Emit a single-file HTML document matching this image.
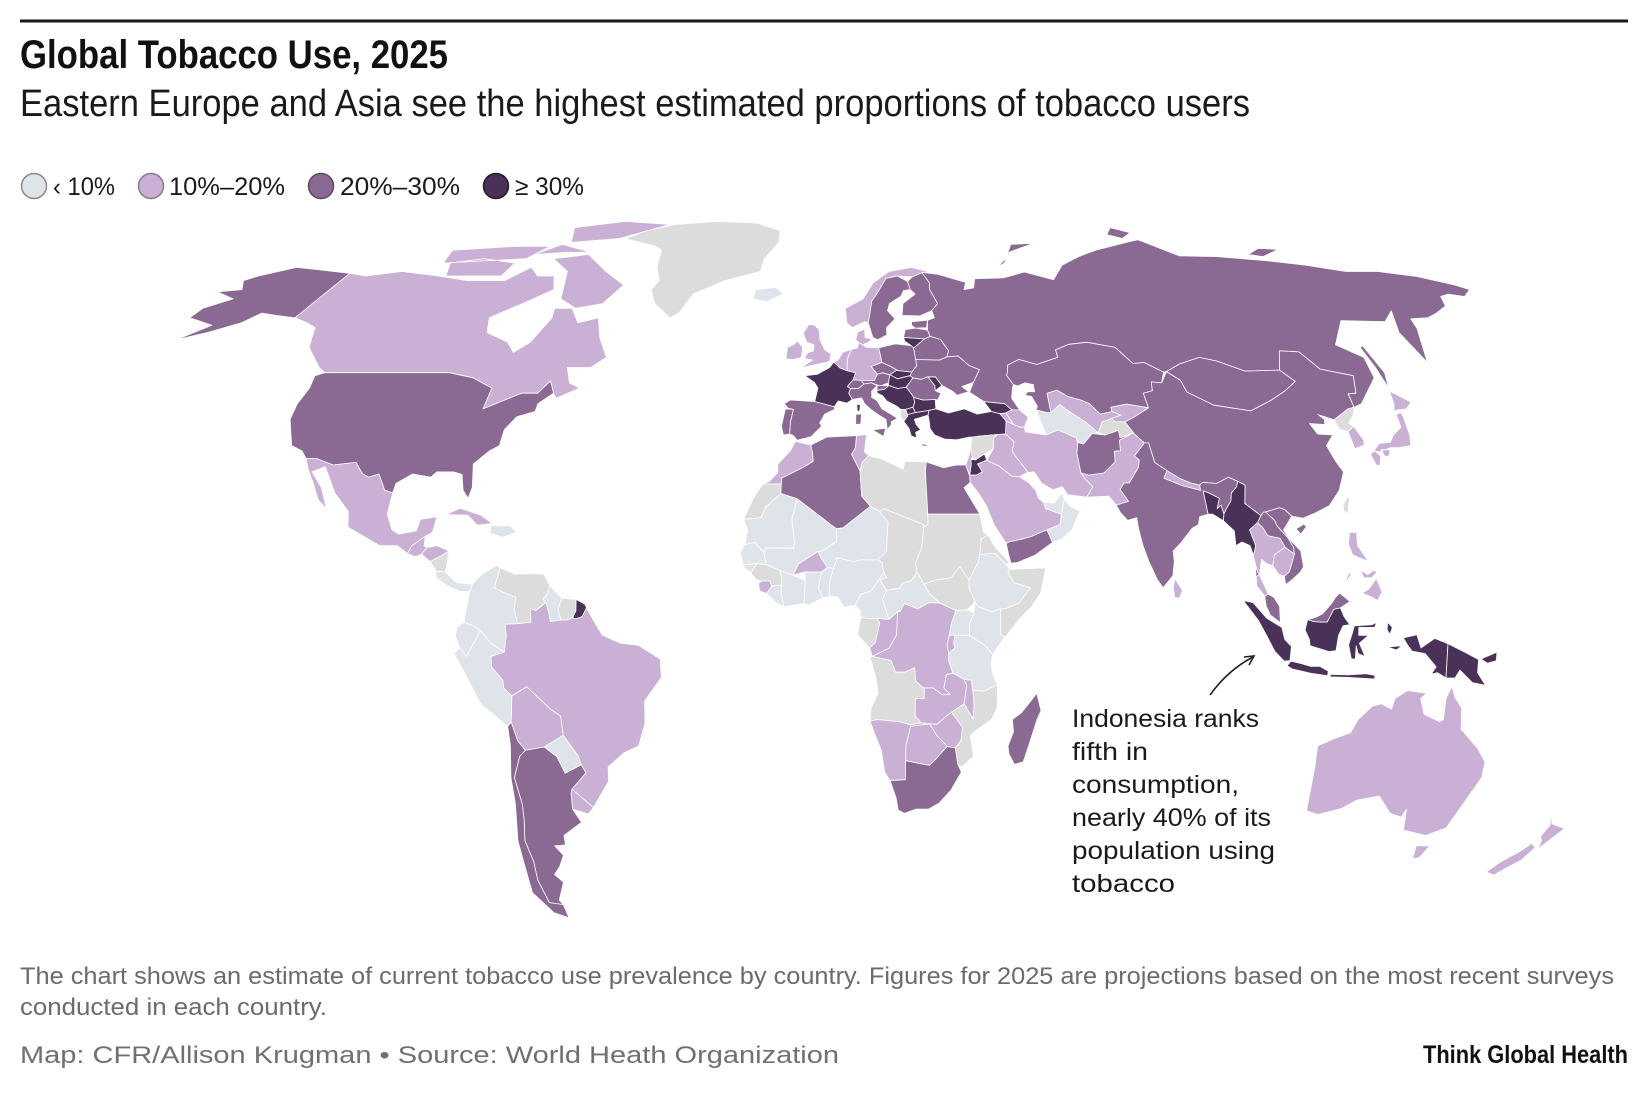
<!DOCTYPE html>
<html>
<head>
<meta charset="utf-8">
<style>
  html,body{margin:0;padding:0;background:#fff;}
  svg{display:block;}
  text{font-family:"Liberation Sans",sans-serif;}
</style>
</head>
<body>
<svg id="chart" width="1640" height="1102" viewBox="0 0 1640 1102" xmlns="http://www.w3.org/2000/svg">
  <line x1="20" y1="21" x2="1628" y2="21" stroke="#1a1a1a" stroke-width="3"/>
  <text x="20" y="68" font-size="40" font-weight="bold" fill="#111" textLength="428" lengthAdjust="spacingAndGlyphs">Global Tobacco Use, 2025</text>
  <text x="20" y="116" font-size="38" fill="#1a1a1a" textLength="1230" lengthAdjust="spacingAndGlyphs">Eastern Europe and Asia see the highest estimated proportions of tobacco users</text>

  <g>
    <g>
      <circle cx="34" cy="186" r="12.5" fill="#dfe4ea" stroke="#8a8a8a" stroke-width="1.5"/>
      <text x="53" y="195" font-size="25" fill="#1a1a1a" textLength="62" lengthAdjust="spacingAndGlyphs">‹ 10%</text>
    </g>
    <g>
      <circle cx="151" cy="186" r="12.5" fill="#c9b0d4" stroke="#8a7a90" stroke-width="1.5"/>
      <text x="169" y="195" font-size="25" fill="#1a1a1a" textLength="116" lengthAdjust="spacingAndGlyphs">10%–20%</text>
    </g>
    <g>
      <circle cx="321" cy="186" r="12.5" fill="#8a6a93" stroke="#5a4a60" stroke-width="1.5"/>
      <text x="340" y="195" font-size="25" fill="#1a1a1a" textLength="120" lengthAdjust="spacingAndGlyphs">20%–30%</text>
    </g>
    <g>
      <circle cx="496" cy="186" r="12.5" fill="#4a3157" stroke="#2a1a30" stroke-width="1.5"/>
      <text x="515" y="195" font-size="25" fill="#1a1a1a" textLength="69" lengthAdjust="spacingAndGlyphs">≥ 30%</text>
    </g>
  </g>

  <g id="map"></g>

  <g>
    <path d="M1210,695 Q1228,670 1253,657" fill="none" stroke="#222" stroke-width="1.6"/>
    <path d="M1244,657 L1254,656 L1249,665" fill="none" stroke="#222" stroke-width="1.6"/>
    <text x="1072" y="727" font-size="25" fill="#1a1a1a" textLength="187" lengthAdjust="spacingAndGlyphs">Indonesia ranks</text>
    <text x="1072" y="760" font-size="25" fill="#1a1a1a" textLength="76" lengthAdjust="spacingAndGlyphs">fifth in</text>
    <text x="1072" y="793" font-size="25" fill="#1a1a1a" textLength="167" lengthAdjust="spacingAndGlyphs">consumption,</text>
    <text x="1072" y="826" font-size="25" fill="#1a1a1a" textLength="199" lengthAdjust="spacingAndGlyphs">nearly 40% of its</text>
    <text x="1072" y="859" font-size="25" fill="#1a1a1a" textLength="203" lengthAdjust="spacingAndGlyphs">population using</text>
    <text x="1072" y="892" font-size="25" fill="#1a1a1a" textLength="103" lengthAdjust="spacingAndGlyphs">tobacco</text>
  </g>

  <text x="20" y="984" font-size="24" fill="#6b6b6b" textLength="1594" lengthAdjust="spacingAndGlyphs">The chart shows an estimate of current tobacco use prevalence by country. Figures for 2025 are projections based on the most recent surveys</text>
  <text x="20" y="1015" font-size="24" fill="#6b6b6b" textLength="307" lengthAdjust="spacingAndGlyphs">conducted in each country.</text>
  <text x="20" y="1063" font-size="24" fill="#707070" textLength="819" lengthAdjust="spacingAndGlyphs">Map: CFR/Allison Krugman • Source: World Heath Organization</text>
  <text x="1423" y="1063" font-size="25" font-weight="bold" fill="#111" textLength="205" lengthAdjust="spacingAndGlyphs">Think Global Health</text>
</svg>

<script>
// ---- Data: category per country (0: <10%, 1: 10-20%, 2: 20-30%, 3: >=30%, -1: no data)
const countryNames = ["Canada","USA","Alaska","Greenland","Iceland","Mexico","Guatemala","Honduras","Nicaragua","Costa Rica-Panama","Cuba","Hispaniola",
"Colombia","Venezuela","Guyana","Suriname","French Guiana","Ecuador","Peru","Brazil","Bolivia","Paraguay","Uruguay","Argentina","Chile",
"Norway","Sweden","Finland","UK","Ireland","France","Spain","Portugal","Germany","Benelux","Denmark","Switzerland","Austria","Italy","Poland","Czechia","Slovakia","Hungary","Slovenia","Western Balkans","Albania","North Macedonia","Greece","Bulgaria","Romania","Moldova","Ukraine","Belarus","Lithuania","Latvia","Estonia","Russia","Turkey","Georgia","Armenia","Azerbaijan",
"Iran","Iraq","Syria","Jordan","Israel-Lebanon","Saudi Arabia","Yemen","Oman","UAE","Afghanistan","Pakistan","Turkmenistan","Uzbekistan","Kazakhstan","Kyrgyzstan","Tajikistan","Mongolia","China","Taiwan","North Korea","South Korea","Japan","India","Nepal","Bangladesh","Myanmar","Thailand","Laos","Vietnam","Cambodia","Malaysia","Indonesia","Papua New Guinea","Philippines","Sri Lanka","Australia","New Zealand",
"Morocco","Western Sahara","Algeria","Tunisia","Libya","Egypt","Mauritania","Mali","Niger","Chad","Sudan","South Sudan","Ethiopia","Eritrea","Somalia","Kenya","Senegal","Guinea","Guinea-Bissau","Sierra Leone","Liberia","Cote d'Ivoire","Burkina Faso","Ghana","Togo-Benin","Nigeria","Cameroon","Central African Republic","Gabon","Congo","DR Congo","Uganda","Rwanda-Burundi","Tanzania","Angola","Zambia","Malawi","Mozambique","Zimbabwe","Namibia","Botswana","South Africa","Madagascar"];
const countryCategories = [1,2,2,-1,0,1,1,1,-1,0,1,0,
0,-1,0,-1,3,0,0,1,1,0,1,2,2,
1,2,2,1,1,3,2,2,1,1,1,2,2,2,2,2,3,3,2,3,-1,3,3,3,2,3,2,2,3,2,2,2,3,3,1,1,
1,1,-1,3,1,1,2,0,0,2,1,0,1,2,1,-1,2,2,-1,-1,1,1,2,1,3,3,1,2,2,1,2,3,3,1,1,1,1,
1,-1,2,1,-1,2,0,0,0,-1,-1,-1,0,-1,-1,0,0,-1,0,1,0,0,1,0,0,0,0,0,-1,1,1,0,1,0,-1,1,1,-1,1,1,1,2,2];
const categoryLabels = ["< 10%","10%–20%","20%–30%","≥ 30%"];
const categoryColors = ["#dfe4ea","#c9b0d4","#8a6a93","#4a3157"];
const noDataColor = "#dcdcdc";

// ---- Geometry (lon, lat)
const countryShapes = {
"Canada":[[[-141,69.6],[-136,69],[-128,70],[-117,69],[-108,68],[-98,68],[-94,71],[-90,69],[-85,69],[-82,66],[-86,64],[-94,60],[-92,57],[-85,55],[-82,53],[-79,55],[-77,60],[-78,62],[-73,62],[-69,59],[-64,60],[-61,56],[-57,52],[-60,50],[-66,50],[-64,47],[-61,46],[-66,44],[-67,45],[-69,47.4],[-71,45],[-75,45],[-79,43.5],[-83,42],[-83,46],[-89,48],[-95,49],[-123,49],[-125,50],[-131,54],[-134,58],[-137,59],[-141,60]],
 [[-62,67],[-65,63],[-72,62],[-78,64],[-82,70],[-90,73],[-80,74],[-70,70]],
 [[-118,72],[-110,73],[-100,72],[-100,69],[-115,69]],
 [[-90,77],[-75,78],[-62,82],[-80,83],[-95,81]],
 [[-122,75],[-105,76],[-95,76],[-98,73],[-120,72]],
 [[-97,74],[-88,74.5],[-80,74.5],[-92,76.5]]],
"USA":[[[-123,49],[-95,49],[-89,48],[-83,46],[-83,42],[-79,43.5],[-75,45],[-71,45],[-69,47.4],[-67,45],[-70,43],[-70,41.5],[-74,40.5],[-76,38],[-76,35],[-78,34],[-81,31.5],[-80,27],[-80.5,25],[-82,26.5],[-83,29.5],[-85,30],[-89,30],[-90,29],[-94,29.6],[-97,27.8],[-97.2,26],[-99,26.5],[-101,29.6],[-103,29],[-104.5,29.7],[-106.5,31.8],[-111,31.3],[-114.8,32.5],[-117,32.5],[-118.5,34],[-121,35],[-122.5,37.5],[-124,40],[-124.5,43],[-124,46],[-124.7,48.4]]],
"Alaska":[[[-141,60],[-141,69.6],[-150,70.4],[-157,71],[-163,69],[-165,68],[-162,66],[-167,65.5],[-161,64],[-165,62],[-165,60],[-158,58.5],[-162,55.5],[-157,57],[-152,59],[-150,61],[-146,60.5]]],
"Greenland":[[[-73,78],[-60,76],[-57,75],[-55,71],[-52,68],[-53,66],[-50,63],[-44,60],[-42,61],[-40,65],[-32,68],[-22,70],[-22,73],[-19,77],[-20,80],[-30,82.5],[-45,83],[-60,82],[-68,80]]],
"Iceland":[[[-22,64],[-22,66],[-16,66.5],[-13.5,65],[-18,63.4]]],
"Mexico":[[[-117,32.5],[-114.8,32.5],[-111,31.3],[-106.5,31.8],[-104.5,29.7],[-103,29],[-101,29.6],[-99,26.5],[-97.2,26],[-97.5,22],[-96,19],[-94.5,18.2],[-91,18.8],[-90.5,21],[-87,21.5],[-87.5,18.5],[-89,17.8],[-91.5,16],[-92.2,14.5],[-94.5,16],[-98,16],[-105,19.5],[-105.5,22.5],[-109,26],[-112.5,31],[-114.8,30],[-112,27],[-110,23],[-112,24.7],[-114,28],[-115.8,30.5]]],
"Guatemala":[[[-92.2,14.5],[-91.5,16],[-89,17.8],[-89,15.9],[-88.2,15.7],[-89.3,14.4],[-90.5,13.9]]],
"Honduras":[[[-89.3,14.4],[-88.2,15.7],[-86,16],[-83.2,15],[-85,14],[-87.3,13]]],
"Nicaragua":[[[-87.3,13],[-85,14],[-83.2,15],[-83.6,11],[-85.7,11.2]]],
"Costa Rica-Panama":[[[-85.7,11.2],[-83.6,11],[-81,9],[-77.4,8.7],[-77.9,7.3],[-80,7.3],[-82.5,8.2],[-85.7,9.9]]],
"Cuba":[[[-85,21.9],[-82,23.1],[-77,21.8],[-74.2,20.2],[-77.5,19.9],[-80,21.8]]],
"Hispaniola":[[[-74.4,19.8],[-70,19.8],[-68.4,18.5],[-71.5,17.6],[-74.4,18.4]]],
"Colombia":[[[-77.4,8.7],[-75.5,10.5],[-72,12.4],[-71.4,11.8],[-72.4,8],[-70,7],[-67.5,6.2],[-67.8,4],[-67,1.2],[-69.8,1.1],[-69.5,-1],[-70,-4.2],[-73,-2.5],[-75.2,-0.1],[-77,0.8],[-79,1.5],[-77.9,7.3]]],
"Venezuela":[[[-71.4,11.8],[-68,10.6],[-64,10.7],[-61.5,10.6],[-60,8.4],[-60.5,6.8],[-61.4,5.9],[-60.7,5.2],[-63,3.7],[-64.2,4.1],[-64,1.5],[-66.9,1.2],[-67,1.2],[-67.8,4],[-67.5,6.2],[-70,7],[-72.4,8]]],
"Guyana":[[[-60,8.4],[-57.2,6],[-58,4],[-57.3,1.9],[-59.7,1.6],[-59.9,2.7],[-60.7,5.2],[-61.4,5.9],[-60.5,6.8]]],
"Suriname":[[[-57.2,6],[-54,5.8],[-54,3.6],[-54.7,2.3],[-56,1.9],[-57.3,1.9],[-58,4]]],
"French Guiana":[[[-54,5.8],[-52,4.9],[-51.6,4.2],[-52.6,2.5],[-54,2.1],[-54.7,2.3],[-54,3.6]]],
"Ecuador":[[[-80.9,-1],[-80,-3.4],[-78.5,-5],[-75.2,-0.1],[-77,0.8],[-79,1.5],[-80.5,0.5]]],
"Peru":[[[-80,-3.4],[-81.3,-4.5],[-79.5,-7.5],[-76,-14],[-70.4,-18.3],[-69.5,-17.5],[-68.8,-12.5],[-70.5,-11],[-70.6,-9.5],[-73,-7],[-73,-5],[-70,-4.2],[-73,-2.5],[-75.2,-0.1],[-78.5,-5]]],
"Brazil":[[[-60.7,5.2],[-59.9,2.7],[-59.7,1.6],[-57.3,1.9],[-56,1.9],[-54.7,2.3],[-54,2.1],[-52.6,2.5],[-51.6,4.2],[-50,1.8],[-48,-1],[-44,-2.5],[-40,-2.9],[-35.2,-5.5],[-35,-9],[-39,-13.5],[-39.2,-17.7],[-41,-22],[-44.5,-23.3],[-48.5,-26],[-48.8,-28.7],[-53.4,-33.7],[-57.6,-30.2],[-53.8,-27.1],[-54.6,-25.6],[-55,-24],[-58,-20],[-58.2,-16.3],[-60.2,-15.1],[-65.3,-10.8],[-68.8,-12.5],[-70.5,-11],[-70.6,-9.5],[-73,-7],[-73,-5],[-70,-4.2],[-69.5,-1],[-69.8,1.1],[-67,1.2],[-66.9,1.2],[-64,1.5],[-64.2,4.1],[-63,3.7]]],
"Bolivia":[[[-68.8,-12.5],[-65.3,-10.8],[-60.2,-15.1],[-58.2,-16.3],[-58,-20],[-62.6,-22.2],[-67,-22.8],[-68.5,-21],[-69.5,-17.5]]],
"Paraguay":[[[-58,-20],[-55,-24],[-54.6,-25.6],[-58.6,-27.2],[-60,-24],[-62.6,-22.2]]],
"Uruguay":[[[-57.6,-30.2],[-53.4,-33.7],[-54.9,-34.9],[-58.4,-34],[-58,-31]]],
"Argentina":[[[-67,-22.8],[-62.6,-22.2],[-60,-24],[-58.6,-27.2],[-54.6,-25.6],[-53.8,-27.1],[-57.6,-30.2],[-58,-31],[-58.4,-34],[-57,-36.5],[-62,-39],[-62.3,-40.8],[-65,-41],[-63.6,-42.8],[-65.5,-45],[-67.5,-46.5],[-66,-48],[-69,-51.5],[-68.5,-52.4],[-71.9,-52],[-72.3,-47.5],[-71.5,-44],[-71.8,-40],[-70.5,-36],[-70,-33],[-70.5,-28],[-68.5,-24]]],
"Chile":[[[-70.4,-18.3],[-69.5,-17.5],[-68.5,-21],[-67,-22.8],[-68.5,-24],[-70.5,-28],[-70,-33],[-70.5,-36],[-71.8,-40],[-71.5,-44],[-72.3,-47.5],[-71.9,-52],[-68.5,-52.4],[-68.6,-55],[-72,-54],[-75,-50],[-74,-44],[-73.5,-40],[-71.6,-33],[-71.3,-28],[-70.3,-22]]],
"Norway":[[[5,62],[5.5,59],[7,58],[10.5,59.2],[11.5,59],[12,61],[12.5,63.5],[14,65],[17,68.5],[20,69],[25,68.8],[28.5,69.2],[30,70],[25,71],[18,70],[13,67.5],[10,64]]],
"Sweden":[[[11.5,59],[12.7,56],[14,55.5],[16.5,56.5],[16.5,58],[19,59.8],[17,61.5],[17.6,63],[21,64.5],[22,65.8],[24,66],[23.5,67.8],[20.5,69],[17,68.5],[14,65],[12.5,63.5],[12,61]]],
"Finland":[[[21,60.5],[26,60.4],[29.5,61.5],[31.5,63],[29.8,66],[30,67.5],[28.8,69],[28.5,69.8],[25,68.8],[23.5,67.8],[24,66],[25.3,65],[21.5,63]]],
"UK":[[[-5.5,50],[1.4,51.2],[1.7,52.7],[0,53.5],[-1.5,55.5],[-2,57.6],[-3.5,58.6],[-5,58.6],[-6.2,56.8],[-5,55],[-3,54.5],[-3,53.3],[-4.5,52.9],[-5.2,51.8],[-3,51.5],[-5.7,50.1]]],
"Ireland":[[[-6,52],[-6,54],[-7.5,55.3],[-8.5,54.5],[-10,54],[-10,51.7],[-8,51.6]]],
"France":[[[-4.7,48.4],[-1.5,48.7],[1.5,50],[2.5,51.1],[4.2,49.9],[6,49.4],[8.2,49],[7.6,47.6],[6.2,46.3],[7,45.9],[6.6,45],[7.5,43.8],[6.2,43.1],[4,43.5],[3.1,42.4],[-1.8,43.4],[-1.2,46],[-2.2,47.1]],[[8.6,42.9],[9.5,42.8],[9.3,41.4],[8.7,41.7]]],
"Spain":[[[-9.3,43],[-7.8,43.7],[-1.8,43.4],[3.1,42.4],[3.2,41.9],[0.8,41],[-0.3,39.3],[0.2,38.7],[-1.5,37.3],[-2.2,36.7],[-5.5,36],[-6.5,36.9],[-7.4,37.2],[-7.4,39.5],[-6.9,41.9],[-8.2,42.1]]],
"Portugal":[[[-8.9,42],[-6.9,41.9],[-7.4,39.5],[-7.4,37.2],[-8.9,37],[-9.5,38.7]]],
"Germany":[[[6,50.8],[6.1,51.9],[7,53.6],[8.6,53.9],[8.9,55],[10,54.5],[11,54],[14.2,53.9],[14.6,52.6],[15,51],[12.2,50.2],[13.8,48.7],[13,47.5],[10.2,47.3],[7.6,47.6],[8.2,49],[6,49.4]]],
"Benelux":[[[2.5,51.1],[3.6,51.5],[4.7,53],[7,53.6],[6.1,51.9],[6,50.8],[6,49.4],[4.2,49.9]]],
"Denmark":[[[8.1,55.5],[8.6,57.1],[10.5,57.7],[10.6,56],[12.6,55.6],[11,54.8],[10,54.5],[8.9,55]]],
"Switzerland":[[[6.2,46.3],[7.6,47.6],[9.6,47.5],[10.4,46.8],[9,45.9],[7,45.9]]],
"Austria":[[[9.6,47.5],[13,47.5],[13.8,48.7],[15,49],[17,48.6],[16.5,47],[14.5,46.4],[12.2,47],[10.4,46.8]]],
"Italy":[[[6.6,45],[7,45.9],[9,45.9],[10.4,46.8],[12.2,47],[13.7,46.5],[12.3,45.4],[12.3,44.2],[13.6,43.6],[14.8,42],[16.1,41.4],[18.5,40.2],[17,39.5],[17,39],[16,38],[15.7,40],[14,40.8],[12.2,41.8],[10.5,43],[9.8,44.1],[7.5,43.8]],[[12.4,38],[15.6,38.3],[15.1,36.7]],[[8.4,41],[9.8,41],[9.6,39.1],[8.4,39]]],
"Poland":[[[14.2,53.9],[18.6,54.7],[23.5,54.3],[23.8,52.7],[24,50.4],[22.6,49.1],[19,49.4],[17,50.3],[15,51],[14.6,52.6]]],
"Czechia":[[[12.2,50.2],[15,51],[17,50.3],[18.8,49.5],[17,48.6],[15,49],[13.8,48.7]]],
"Slovakia":[[[17,48.6],[18.8,49.5],[19,49.4],[22.6,49.1],[22.1,48.4],[18.8,47.8]]],
"Hungary":[[[16.5,47],[17,48.6],[18.8,47.8],[22.1,48.4],[22.8,48],[21,46.2],[18.8,45.9],[16.6,46.5]]],
"Slovenia":[[[13.7,46.5],[16.6,46.5],[15.6,45.8],[13.6,45.5]]],
"Western Balkans":[[[13.6,45.5],[15.6,45.8],[16.6,46.5],[18.8,45.9],[21,46.2],[22.5,44.5],[22.7,44.2],[22.9,43.2],[22.4,42.3],[20.6,41.9],[19.4,41.9],[18.5,42.5],[16,43.5],[15,44.5],[13.6,45.1]]],
"Albania":[[[19.4,41.9],[20.6,41.9],[21,40.6],[20,39.6],[19.3,40.4]]],
"North Macedonia":[[[20.6,41.9],[22.4,42.3],[23,41.3],[21,40.9]]],
"Greece":[[[21,40.6],[21,40.9],[23,41.3],[26.3,41.7],[26,40.8],[23.5,40.2],[22.6,40],[23,39],[24,38],[22.8,37.5],[23,36.5],[21.7,36.8],[21.2,38.3],[20,39.6]],[[23.5,35.3],[26.3,35.1],[24.5,34.9]]],
"Bulgaria":[[[22.9,43.2],[22.7,44.2],[25,43.7],[28,43.8],[28,42],[26.3,41.7],[23,41.3],[22.4,42.3]]],
"Romania":[[[21,46.2],[22.8,48],[24.9,47.7],[26.6,48.2],[28.2,46.5],[28.2,45.5],[29.6,45],[28.6,43.7],[28,43.8],[25,43.7],[22.7,44.2],[22.5,44.5]]],
"Moldova":[[[26.6,48.2],[28.2,46.5],[28.2,45.5],[30,46.5],[28.5,48.2]]],
"Ukraine":[[[22.1,48.4],[22.6,49.1],[24,50.4],[23.8,51.6],[30,51.5],[32,52.1],[35,52.3],[37.5,50.4],[40,49.6],[38,47.1],[35,46.3],[36.5,45.3],[33.5,44.6],[32.5,45.4],[30,46.5],[28.5,48.2],[26.6,48.2],[24.9,47.7],[22.8,48]]],
"Belarus":[[[23.8,51.6],[23.5,53.9],[26.6,55.7],[28.2,56.2],[30.9,55.6],[32.7,53.3],[32,52.1],[30,51.5]]],
"Lithuania":[[[21,56],[26.6,55.7],[23.5,53.9],[22.8,54.4],[21.3,55.2]]],
"Latvia":[[[21,56],[21.6,57.6],[24.4,57.9],[27.7,57.5],[28.2,56.2],[26.6,55.7]]],
"Estonia":[[[23.5,59.2],[28,59.5],[27.5,58],[24.4,57.9],[23.4,58.5]]],
"Russia":[[[28,69.8],[33,69.4],[41,67.6],[40,66],[43,66.4],[44,68.4],[53,68.6],[60,69.9],[68,68.2],[73,71.5],[80,73.5],[87,75],[100,77],[105,77.7],[113,73.7],[125,73.5],[140,72.5],[150,71.5],[160,70],[170,70],[180,68.9],[188,67],[190.3,66],[186,64.5],[182,65],[179,64.5],[177,62.5],[172,61],[168,60],[163,59.8],[162,57.8],[156.5,51],[156,57],[160,61.5],[155,59.2],[143,59.4],[136,54.5],[141,52],[140,48],[133,43],[130.7,42.3],[131,44.9],[133,45],[135,48.4],[127.5,49.7],[125,53.1],[120,53.3],[117,49.5],[108,49.3],[102,51.3],[98,52],[92,50.7],[87.8,49.2],[87,49.1],[83,51],[80,50.8],[77,54],[70,55],[65,54.6],[61,53.5],[61,52],[55,50.6],[50.7,51.6],[47.5,50.5],[47,49],[46.7,48.5],[48,46.7],[47.5,45.7],[47,44],[48.5,41.8],[46.6,41.8],[45,43],[40,43.4],[36.7,45.2],[38,47.1],[40,49.6],[37.5,50.4],[35,52.3],[32,52.1],[32.7,53.3],[30.9,55.6],[28.2,56.2],[27.7,57.5],[28,59.5],[30,60],[29.5,61.5],[31.5,63],[29.8,66],[30,67.5],[28.8,69]],
 [[52,71],[56,73],[60,76.5],[68,76.8],[58,74.5],[55,72]],
 [[96,79],[100,81],[105,79.5],[100,78]],
 [[142,46],[143.5,49],[143,54.3],[142,54],[142,50]],
 [[136,74],[142,75.5],[148,75.2],[140,73.5]]],
"Turkey":[[[26,40.8],[26.3,41.7],[28,42],[31,41.2],[35,42],[38,41],[41.5,41.5],[43.5,41.1],[44.8,39.7],[44.3,37.2],[42.4,37.1],[38,36.8],[36.2,36.6],[35.5,36.6],[32.5,36.1],[29.7,36.2],[27.3,37],[26.3,38.2],[26.2,39.5]]],
"Georgia":[[[40,43.4],[45,43],[46.6,41.8],[45,41.2],[43.5,41.1],[41.5,41.5]]],
"Armenia":[[[43.5,41.1],[45,41.2],[46.5,39],[44.8,39.7]]],
"Azerbaijan":[[[45,41.2],[46.6,41.8],[48.5,41.8],[50.3,40.4],[49,38.5],[48,38.5],[46.5,39]]],
"Iran":[[[44.3,37.2],[44.8,39.7],[46.5,39],[48,38.5],[49,38.5],[49.1,37.6],[54,37],[57,38],[61,36.5],[61.2,35.6],[60.6,33.5],[60.9,29.8],[61.8,28.6],[63.3,27.2],[61.6,25.2],[57.3,25.7],[56.2,27.2],[54,26.6],[51.5,27.9],[50,30],[48.5,29.9],[47.7,31],[46,33],[45.4,34],[46.1,35.7]]],
"Iraq":[[[42.4,37.1],[44.3,37.2],[46.1,35.7],[45.4,34],[46,33],[47.7,31],[48.5,29.9],[46.5,29.1],[44.7,29.2],[42,31.1],[39.2,32.2],[41,34.4],[41.3,36.4]]],
"Syria":[[[36.2,36.6],[38,36.8],[42.4,37.1],[41.3,36.4],[41,34.4],[38.8,33.4],[36.6,32.3],[35.9,32.8],[35.6,34.6],[35.9,35.4]]],
"Jordan":[[[35.5,32.4],[36.6,32.3],[38.8,33.4],[39.2,32.2],[37,31.5],[38,30],[36.5,29.4],[35,29.4],[35.5,31.5]]],
"Israel-Lebanon":[[[34.2,31.3],[35,29.5],[35.5,31.5],[35.5,32.4],[35.9,32.8],[35.6,34.6],[35.1,33]]],
"Saudi Arabia":[[[34.9,29.4],[36.5,29.4],[38,30],[37,31.5],[39.2,32.2],[42,31.1],[44.7,29.2],[46.5,29.1],[47.5,28.5],[48.5,28],[50,26.5],[50.5,25],[51.6,24.2],[52,23],[55.5,22],[55,20],[52,19],[48.2,17.7],[46.5,17.3],[43.2,16.7],[42.6,16.4],[40,20],[38.5,23.5],[37,25.7],[35,28]]],
"Yemen":[[[42.6,16.4],[43.2,16.7],[46.5,17.3],[48.2,17.7],[52,19],[53.1,16.6],[49,14.2],[45,12.8],[43.5,12.7],[43,14.5]]],
"Oman":[[[52,19],[55,20],[55.5,22],[56.4,24.9],[57.3,23.7],[59.8,22.5],[58.5,20.5],[57.7,19],[55.2,17.3],[53.1,16.6]]],
"UAE":[[[51.6,24.2],[54,24.1],[56,26],[56.4,24.9],[55.5,22],[52,23]]],
"Afghanistan":[[[61.2,35.6],[62.5,35.3],[65,37.3],[68,37],[71.5,37.9],[71.5,36.5],[74.9,37.4],[71.2,36],[71,34],[69.5,33.9],[69.3,31.9],[66.5,30],[66.3,29.8],[62.5,29.4],[60.9,29.8],[60.6,33.5]]],
"Pakistan":[[[60.9,29.8],[62.5,29.4],[66.3,29.8],[66.5,30],[69.3,31.9],[69.5,33.9],[71,34],[71.2,36],[74.9,37.4],[77,35.5],[74,33],[75,32.3],[74.5,30.9],[71.8,27.9],[70.6,27.9],[69.5,26.7],[71.1,24.4],[68.2,23.7],[66.7,25.4],[61.6,25.2],[63.3,27.2],[61.8,28.6]]],
"Turkmenistan":[[[52.5,41.8],[53,40],[53.9,37.3],[54,37],[57,38],[61,36.5],[61.2,35.6],[62.5,35.3],[65,37.3],[66.5,37.4],[64,39.5],[61,41.2],[58.6,42.8],[56,41.3],[55,41.3]]],
"Uzbekistan":[[[56,41.3],[56,45],[58.6,45.6],[61,44.4],[64,43.7],[66,43],[68,41],[71,41.5],[73,40.8],[71,40.3],[68,39.5],[66.5,37.4],[64,39.5],[61,41.2],[58.6,42.8]]],
"Kazakhstan":[[[46.7,48.5],[47,49],[47.5,50.5],[50.7,51.6],[55,50.6],[61,52],[61,53.5],[65,54.6],[70,55],[77,54],[80,50.8],[83,51],[87,49.1],[85.5,47],[83,47.2],[82.5,45.5],[80,45],[80.2,42.2],[75,42.9],[71,42.3],[71,41.5],[68,41],[66,43],[64,43.7],[61,44.4],[58.6,45.6],[56,45],[56,41.3],[55,41.3],[52.5,41.8],[53,42.5],[52,44.4],[50.3,44.6],[51.3,45.3],[53,45.3],[53,46.7],[51,47],[49,46.4],[48,46.7]]],
"Kyrgyzstan":[[[71,42.3],[75,42.9],[80.2,42.2],[76,40.4],[73.5,39.5],[71,39.5],[70.5,40.2],[73,40.8],[71,41.5]]],
"Tajikistan":[[[68,39.5],[71,40.3],[70.5,40.2],[71,39.5],[73.5,39.5],[75,37.4],[71.5,36.5],[71.5,37.9],[68,37],[66.5,37.4]]],
"Mongolia":[[[87.8,49.2],[92,50.7],[98,52],[102,51.3],[108,49.3],[117,49.5],[119.5,47.3],[115.5,45.4],[111,43.6],[105,41.6],[96.5,42.7],[91,45.2],[90.5,47.5]]],
"China":[[[73.5,39.5],[76,40.4],[80.2,42.2],[80,45],[82.5,45.5],[83,47.2],[85.5,47],[87.8,49.2],[90.5,47.5],[91,45.2],[96.5,42.7],[105,41.6],[111,43.6],[115.5,45.4],[119.5,47.3],[117,49.5],[120,53.3],[125,53.1],[127.5,49.7],[135,48.4],[133,45],[131,44.9],[130.7,42.3],[129,42],[124.3,39.9],[121,40.9],[122,40],[121.6,39],[118,39.2],[119,37.2],[122.5,37],[120,35],[121,32],[122,30],[120,26.5],[117,23.6],[113.5,22.2],[110.5,21.2],[108,21.6],[106.7,22.8],[105.5,23.2],[102.2,22.4],[101.7,22.4],[101,21.7],[97.7,24],[98.5,27.5],[97,28.2],[95,29],[92,27.8],[88.8,28],[88,27.5],[86,27.9],[84,28.6],[81,30.2],[78.5,31.8],[78,35.5],[77,35.5],[74.9,37.4],[75,37.4]],[[108.6,19.2],[110.5,20.1],[111,19.6],[109.5,18.2]]],
"Taiwan":[[[120.2,22.5],[120.9,22],[121.9,25],[121.5,25.3],[120.1,23.6]]],
"North Korea":[[[124.3,39.9],[129,42],[130.7,42.3],[129.7,41],[127.5,39.3],[128.4,38.6],[126.5,37.7],[124.7,38.1]]],
"South Korea":[[[126.5,37.7],[128.4,38.6],[129.4,36],[129,35.1],[126.5,34.4]]],
"Japan":[[[130.8,34],[132,33.8],[135,34.6],[137,34.6],[140,35],[140.9,37],[141.5,40.5],[141.4,41.4],[140,40.8],[139.7,38.5],[137,37],[135.5,35.6],[132.7,35.4]],[[129.7,33.4],[131,34],[132,33],[131,31.2],[130.2,31.3]],[[140,41.5],[141,43],[141.7,45.4],[145.5,43.3],[143.3,42],[141,41.8]],[[132.6,34.2],[134.6,34.2],[134.2,33.2],[133,32.8]]],
"India":[[[68.2,23.7],[71.1,24.4],[69.5,26.7],[70.6,27.9],[71.8,27.9],[74.5,30.9],[75,32.3],[74,33],[77,35.5],[78,35.5],[78.5,31.8],[81,30.2],[80,28.8],[84,27.4],[88,26.5],[88,27.5],[88.8,28],[92,27.8],[95,29],[97,28.2],[96.5,27.2],[95,26],[94.6,24.5],[93.3,23],[92.6,22],[92.2,23.7],[91.2,23],[92,25],[89.8,26],[88.6,26.4],[89,22],[87,21.5],[86.5,20],[85,19.3],[82.2,16.6],[80.2,15],[80.3,13],[79.8,10.3],[77.5,8],[76.3,9.5],[74.6,13],[73.5,16],[72.8,19.3],[72.6,21.3],[70.5,20.8],[69,22.3]]],
"Nepal":[[[80,28.8],[81,30.2],[84,28.6],[86,27.9],[88,27.5],[88,26.5],[84,27.4]]],
"Bangladesh":[[[88.6,26.4],[89.8,26],[92,25],[91.2,23],[92.2,23.7],[92.6,22],[92.3,20.7],[90,22],[89,22]]],
"Myanmar":[[[92.3,20.7],[92.6,22],[93.3,23],[94.6,24.5],[95,26],[96.5,27.2],[97,28.2],[98.5,27.5],[97.7,24],[101,21.7],[100,20.4],[98,19],[99,16],[98.2,14],[99,10.5],[98.5,10],[98.6,13],[97.7,16],[96,16.7],[94.5,16],[94.5,18.8]]],
"Thailand":[[[98,19],[100,20.4],[101,19.5],[102,17.9],[104.7,17.4],[105.6,15.7],[103,14.3],[102.4,12.2],[101,12.6],[100,13.4],[99.2,10.5],[100.3,8.3],[101,6.8],[100.2,6.4],[98.5,8.4],[98.5,10],[99,10.5],[98.2,14],[99,16]]],
"Laos":[[[100,20.4],[101,21.7],[101.7,22.4],[102.2,22.4],[104,20.8],[104.4,19.7],[106.5,17.5],[107.5,15.7],[107.5,14.4],[105.6,15.7],[104.7,17.4],[102,17.9],[101,19.5]]],
"Vietnam":[[[102.2,22.4],[105.5,23.2],[106.7,22.8],[108,21.6],[106.6,20],[105.7,19],[107,17],[109,15],[109.3,12],[108.5,11],[106.6,9.6],[105,8.6],[104.8,10.2],[106,11],[107.5,14.4],[107.5,15.7],[106.5,17.5],[104.4,19.7],[104,20.8]]],
"Cambodia":[[[102.4,12.2],[103,14.3],[105.6,15.7],[107.5,14.4],[106,11],[104.8,10.2],[103.5,10.6]]],
"Malaysia":[[[100.2,6.4],[101,6.8],[102.2,6.2],[103.4,4.5],[103.5,1.4],[101.3,2.8],[100.4,4.6]],[[109.6,2],[111,1.6],[112.5,1.5],[114,1.5],[115.5,3.9],[117,4.2],[119.2,5.4],[117,7],[116,6.2],[115,5],[113,3.1],[111.4,2.4]]],
"Indonesia":[[[95.3,5.6],[97.5,5.2],[100.4,2.3],[103.8,0.5],[104.5,-1.8],[106,-3.1],[105.8,-5.8],[104.5,-5.9],[102.3,-4],[100.4,-1],[98.6,1.8]],
 [[105.2,-6.8],[106,-5.9],[108.5,-6.4],[110.5,-6.9],[112.6,-6.9],[114.5,-7.8],[114.4,-8.7],[110.5,-8.2],[106.4,-7.4]],
 [[109.6,2],[109,0],[110,-1.8],[110.2,-3],[114.5,-4.1],[116,-3.9],[116.5,-1],[117.5,0.8],[119,1],[117.8,2.5],[117,4.2],[115.5,3.9],[114,1.5],[112.5,1.5],[111,1.6]],
 [[119.5,-5.5],[120.4,-5.5],[120.5,-3],[121,-4.5],[122.5,-5],[121.2,-2.5],[123.2,-1],[121,-1],[121,0.5],[124.5,0.5],[125.1,1.5],[124,1],[120,0.8],[119.6,-0.5],[118.8,-2.8]],
 [[115,-8.4],[119,-8.5],[123,-8.3],[125,-8.6],[125,-9.3],[119,-9],[115,-8.9]],
 [[131,-1.5],[134,-0.9],[135,-3.4],[138,-1.6],[141,-2.6],[141,-9.1],[139,-8.1],[137.6,-8.4],[138.6,-7],[136,-4.5],[133,-4],[132,-2.9]],
 [[127.5,-3.2],[130.8,-3],[129.5,-3.8]],
 [[127.5,1.5],[128.5,0.5],[128,-0.8],[127.3,0]]],
"Papua New Guinea":[[[141,-2.6],[145,-4.3],[148,-5.6],[148,-8.1],[150,-10.5],[147,-10],[144,-7.6],[143,-9.1],[141,-9.1]],[[148.5,-5.5],[152,-4.2],[152,-5.8],[150,-6.3]]],
"Philippines":[[[120,16.3],[120.6,18.5],[122.2,18.5],[122,16],[124,13],[121.8,13.8],[120.6,14.3]],[[122,7],[123.6,7.8],[125.4,9.8],[126.5,7.2],[125.4,5.6],[124,6.3]],[[122,11.5],[123.5,10.5],[125,11.3],[125.7,11],[124.4,9.9],[122.6,9.9]],[[118,8.5],[119.5,11],[119.8,10.5]]],
"Sri Lanka":[[[79.8,8],[80.2,9.8],[81.8,7.5],[81,6],[80,6.2]]],
"Australia":[[[114,-22],[114.2,-26],[115,-34.3],[118,-35],[123,-33.9],[126,-32.3],[131,-31.5],[135,-34.8],[138,-35.5],[138.5,-34],[140,-38],[146,-39],[150,-37.5],[153.4,-28],[153,-25],[150.7,-22.5],[146,-18.8],[145.3,-14.8],[143.5,-12.8],[142.5,-10.7],[141.5,-13],[141.6,-17],[140.8,-17.4],[137,-16],[135.8,-13],[137,-12],[132.6,-11.5],[130,-13],[129.5,-15],[127,-14],[125,-14.5],[122.3,-17],[121,-19.5],[117.5,-20.6]],[[145,-41],[148.3,-41],[147.5,-43.2],[146,-43.5]]],
"New Zealand":[[[172.7,-34.4],[174.8,-36.8],[178.5,-37.7],[176.9,-39.4],[175.2,-41.6],[174.6,-39.9],[173.8,-39.2],[174.5,-37]],[[172.7,-40.5],[174.3,-41.3],[173,-43.8],[171,-45],[169,-46.6],[166.5,-46],[168.3,-44],[171.5,-41.8]]],
"Morocco":[[[-5.9,35.8],[-2.2,35.1],[-1.7,33.5],[-1.5,32],[-3.7,30.9],[-8.7,28.8],[-8.7,27.7],[-13,27.7],[-11.5,28.2],[-9.6,29.9],[-9.8,31.4],[-6.9,34.1]]],
"Western Sahara":[[[-8.7,27.7],[-13,27.7],[-15,25],[-17,21],[-13,21.3],[-12,23.4],[-8.7,25.9]]],
"Algeria":[[[-1.7,33.5],[-2.2,35.1],[1.5,36.6],[8.6,36.9],[8.4,34.6],[7.5,33.3],[9.5,30.2],[9.9,25.4],[11.9,23.5],[5.7,19.4],[4.2,19.2],[3.2,19.8],[-4.9,24.9],[-8.7,25.9],[-8.7,27.7],[-8.7,28.8],[-3.7,30.9],[-1.5,32]]],
"Tunisia":[[[8.6,36.9],[11,37.1],[10.5,33.8],[11.5,33.1],[10,31.8],[9.5,30.2],[7.5,33.3],[8.4,34.6]]],
"Libya":[[[10,31.8],[11.5,33.1],[15,32.3],[19.5,30.5],[20,32],[25,31.9],[24.7,30],[25,22],[25,20],[24,19.5],[24,20],[15,23],[14,22.5],[11.9,23.5],[9.9,25.4],[9.5,30.2]]],
"Egypt":[[[25,31.9],[29,30.8],[32,31.3],[34.2,31.3],[34.9,29.4],[35,28],[33.5,27],[36.9,22],[31.4,22],[25,22],[24.7,30]]],
"Mauritania":[[[-17,21],[-16,19],[-16.5,16.2],[-14.3,16.6],[-12.2,14.7],[-11.5,15.6],[-5.5,15.5],[-5.3,16.6],[-6,21],[-4.9,24.9],[-8.7,25.9],[-12,23.4],[-13,21.3]]],
"Mali":[[[-12.2,14.7],[-11.5,12.4],[-8.5,11.3],[-5.5,10.4],[-4.3,12.5],[0,14.9],[1.1,15],[4.2,16.8],[4.2,19.2],[3.2,19.8],[-4.9,24.9],[-6,21],[-5.3,16.6],[-5.5,15.5],[-11.5,15.6]]],
"Niger":[[[0,14.9],[1,13.3],[2.2,11.9],[3.6,11.7],[4.4,13.7],[8,13],[10,13.3],[13.6,13.3],[15.5,15],[15.9,20.4],[14,22.5],[11.9,23.5],[5.7,19.4],[4.2,19.2],[4.2,16.8],[1.1,15]]],
"Chad":[[[13.6,13.3],[14.5,12.8],[14.9,10.9],[15.5,9.9],[14,9.5],[15.5,7.5],[18.6,8],[19.1,9],[21,9.3],[22.4,11],[22,12.6],[23.5,15.7],[24,19.5],[24,20],[15,23],[14,22.5],[15.9,20.4],[15.5,15]]],
"Sudan":[[[22,12.6],[22.4,11],[23.9,8.7],[24.5,8.9],[26.6,9.5],[30,9.9],[32,12],[33.3,10.3],[34,9.5],[35,11],[36.2,13],[36.5,14.3],[37,17.3],[38.6,18],[37.5,18.6],[36.9,22],[31.4,22],[25,22],[25,20],[24,19.5],[23.5,15.7]]],
"South Sudan":[[[23.9,8.7],[24.5,8.9],[26.6,9.5],[30,9.9],[32,12],[33.3,10.3],[34,9.5],[34,8],[35.3,5.3],[33.5,3.8],[31,3.7],[27.4,5.1],[25,7]]],
"Ethiopia":[[[34,9.5],[35,11],[36.2,13],[36.5,14.3],[38.5,14.5],[40,14.5],[42.4,12.5],[43.2,11.5],[42.8,10.9],[44,9],[47.8,8],[45,5],[42,4],[41,4],[39,3.5],[36,4.4],[35.3,5.3],[34,8]]],
"Eritrea":[[[36.5,14.3],[37,17.3],[38.6,18],[40,15.8],[43.3,12.7],[42.4,12.5],[40,14.5],[38.5,14.5]]],
"Somalia":[[[42.8,10.9],[43.2,11.5],[51.3,11.8],[51,10.5],[50,7],[48,4.5],[45,1.9],[42,-1.4],[41,-0.8],[41,2.8],[41,4],[42,4],[45,5],[47.8,8],[44,9]]],
"Kenya":[[[41,-0.8],[42,-1.4],[41.6,-1.7],[39.2,-4.7],[37.7,-3.1],[34,-1],[34,1.2],[35,3.3],[35.3,5.3],[36,4.4],[39,3.5],[41,4],[41,2.8]]],
"Senegal":[[[-17.5,14.7],[-16.5,16.2],[-14.3,16.6],[-12.2,14.7],[-11.5,12.4],[-13.7,12.6],[-16.7,12.4]]],
"Guinea":[[[-13.7,12.6],[-11.5,12.4],[-8.5,11.3],[-8,10],[-8,8.5],[-9.5,8.4],[-10.3,8.3],[-10.6,9.3],[-12.4,9.3],[-13.7,9.5],[-15,10.9]]],
"Guinea-Bissau":[[[-16.7,12.4],[-13.7,12.6],[-15,10.9],[-16.5,11.8]]],
"Sierra Leone":[[[-13.2,8.9],[-12.4,9.3],[-10.6,9.3],[-10.3,8.3],[-11.4,6.9],[-13,7.5]]],
"Liberia":[[[-11.4,6.9],[-10.3,8.3],[-9.5,8.4],[-8,8.5],[-8.2,7.6],[-7.5,4.4],[-9,5]]],
"Cote d'Ivoire":[[[-8,10],[-8.5,11.3],[-5.5,10.4],[-2.7,9.4],[-3,5],[-7.5,4.4],[-8.2,7.6],[-8,8.5]]],
"Burkina Faso":[[[-5.5,10.4],[-4.3,12.5],[0,14.9],[1,13.3],[2.2,11.9],[0.9,11],[-2.9,11]]],
"Ghana":[[[-2.9,11],[0.9,11],[0.2,8],[1.2,6.1],[-2,4.7],[-3,5],[-2.7,9.4]]],
"Togo-Benin":[[[0.9,11],[2.2,11.9],[3.6,11.7],[2.7,9],[2.7,6.3],[1.2,6.1],[0.2,8]]],
"Nigeria":[[[3.6,11.7],[4.4,13.7],[8,13],[10,13.3],[13.6,13.3],[14.5,12.8],[14.9,10.9],[13.3,9],[12,7.4],[9.8,6.8],[8.5,4.7],[6,4.3],[4.5,6.3],[2.7,6.3],[2.7,9]]],
"Cameroon":[[[14.9,10.9],[15.5,9.9],[14,9.5],[15.5,7.5],[14.6,5.9],[16,2],[13.3,2.2],[11.3,2.2],[9.8,2.4],[9.5,3.8],[8.5,4.7],[9.8,6.8],[12,7.4],[13.3,9]]],
"Central African Republic":[[[14.6,5.9],[15.5,7.5],[18.6,8],[19.1,9],[21,9.3],[22.4,11],[23.9,8.7],[25,7],[27.4,5.1],[25,5.2],[22.4,4],[19.5,5],[18.5,3.5],[18,3.5],[16,2]]],
"Gabon":[[[9.8,2.4],[11.3,2.2],[13.3,2.2],[14,1.4],[13,-2.4],[11.7,-3.4],[9,-0.9],[9.4,1]]],
"Congo":[[[13.3,2.2],[16,2],[18,3.5],[17.7,-1],[16,-3.5],[12.3,-5],[11.7,-3.4],[13,-2.4],[14,1.4]]],
"DR Congo":[[[12.3,-5],[16,-3.5],[17.7,-1],[18,3.5],[18.5,3.5],[19.5,5],[22.4,4],[25,5.2],[27.4,5.1],[31,3.7],[30,1.3],[29.5,-1],[29,-2.8],[29.4,-4.4],[29.4,-5.9],[30.4,-8.2],[28.9,-8.5],[28.4,-11],[29.8,-12.2],[28,-12.3],[26,-11],[24,-11],[23.5,-10.8],[22,-9.7],[21.8,-7.2],[19.5,-8],[17.5,-8],[16.5,-5.8]]],
"Uganda":[[[29.5,-1],[30,1.3],[31,3.7],[33.5,3.8],[35,3.3],[34,1.2],[34,-1],[30.8,-1]]],
"Rwanda-Burundi":[[[29,-2.8],[29.5,-1],[30.8,-1],[30.5,-2.4],[30.8,-3.4],[29.4,-4.4]]],
"Tanzania":[[[30.8,-1],[34,-1],[37.7,-3.1],[39.2,-4.7],[38.9,-6.5],[39.4,-8.5],[40.4,-10.4],[37.5,-11.6],[34.9,-11.5],[34.5,-9.5],[32.9,-9.4],[30.4,-8.2],[29.4,-5.9],[29.4,-4.4],[30.8,-3.4],[30.5,-2.4]]],
"Angola":[[[11.7,-5],[12.3,-5],[16.5,-5.8],[17.5,-8],[19.5,-8],[21.8,-7.2],[22,-9.7],[23.5,-10.8],[24,-11],[24,-13],[22,-13],[22,-16.3],[23.4,-17.6],[21,-18],[18.4,-17.4],[13.4,-17],[11.8,-17.3],[12,-15],[13.6,-12],[13.2,-9.5],[12.2,-6.3]]],
"Zambia":[[[24,-11],[26,-11],[28,-12.3],[29.8,-12.2],[28.4,-11],[28.9,-8.5],[30.4,-8.2],[32.9,-9.4],[33.5,-10.5],[33,-14],[30.2,-15.6],[28.8,-16.5],[27,-17.9],[25.3,-17.8],[23.4,-17.6],[22,-16.3],[22,-13],[24,-13]]],
"Malawi":[[[32.9,-9.4],[34.5,-9.5],[34.9,-11.5],[35.3,-14.4],[35.1,-16.9],[33,-14],[33.5,-10.5]]],
"Mozambique":[[[34.9,-11.5],[37.5,-11.6],[40.4,-10.4],[40.5,-14.7],[39.3,-17],[36,-19],[34.6,-20],[35.5,-24],[32.9,-26],[32,-25.5],[31.3,-22.4],[32.5,-21],[32.8,-18.5],[30.2,-15.6],[33,-14],[35.1,-16.9],[35.3,-14.4]]],
"Zimbabwe":[[[27,-17.9],[28.8,-16.5],[30.2,-15.6],[32.8,-18.5],[32.5,-21],[31.3,-22.4],[29.4,-22.1],[27,-20],[25.3,-17.8]]],
"Namibia":[[[11.8,-17.3],[13.4,-17],[18.4,-17.4],[21,-18],[23.4,-17.6],[25.3,-17.8],[21,-18.3],[20,-22],[20,-24.8],[20,-28.4],[16.5,-28.6],[15.2,-27],[14.4,-22.9],[13,-20]]],
"Botswana":[[[20,-22],[21,-18.3],[25.3,-17.8],[27,-20],[29.4,-22.1],[26.8,-24.6],[25.5,-25.7],[23,-25.3],[20,-24.8]]],
"South Africa":[[[16.5,-28.6],[20,-28.4],[20,-24.8],[23,-25.3],[25.5,-25.7],[26.8,-24.6],[29.4,-22.1],[31.3,-22.4],[32,-25.5],[32.9,-26.9],[30.7,-30.4],[28,-32.9],[25.6,-34],[22.6,-34],[20,-34.8],[18.5,-34.2],[17.9,-31.8]]],
"Madagascar":[[[49.3,-12],[50.4,-15.3],[49.6,-17],[48,-22],[47,-25],[45,-25.5],[43.6,-23.5],[43.3,-22],[44.4,-19.3],[44,-17],[46,-15.7],[48,-13.5]]]
};

// ---- Projection (Robinson-style, central meridian 11°E)
const RX = [1,0.9986,0.9954,0.99,0.9822,0.973,0.96,0.9427,0.9216,0.8962,0.8679,0.835,0.7986,0.7597,0.7186,0.6732,0.6213,0.5722,0.5322];
const RY = [0,0.062,0.124,0.186,0.248,0.31,0.372,0.434,0.4958,0.5571,0.6176,0.6769,0.7346,0.7903,0.8435,0.8936,0.9394,0.9761,1];
const MAP_CX = 866.5, MAP_CY = 630, PX_PER_DEG = 4.476, Y_SCALE = 425, LON0 = 11;
function interp(t, lat){ const a = Math.min(Math.abs(lat),89.99)/5; const i = Math.floor(a); const f = a - i; return t[i] + (t[i+1]-t[i])*f; }
function xScale(lon, lat){
  let rel = lon - LON0;
  if (rel < -180) rel += 360;
  let x = PX_PER_DEG * rel * interp(RX, lat);
  if (rel < -100) x *= 1 + 0.08 * Math.min(1, (-rel - 100) / 80);
  return MAP_CX + x;
}
function yScale(lat){ return MAP_CY - Math.sign(lat) * Y_SCALE * interp(RY, lat); }

const NS = "http://www.w3.org/2000/svg";
const mapG = document.getElementById('map');
countryNames.forEach(function(name, i){
  const polys = countryShapes[name];
  if (!polys) return;
  const cat = countryCategories[i];
  let d = "";
  polys.forEach(function(poly){
    poly.forEach(function(p, j){
      d += (j === 0 ? "M" : "L") + xScale(p[0], p[1]).toFixed(1) + "," + yScale(p[1]).toFixed(1);
    });
    d += "Z";
  });
  const path = document.createElementNS(NS, 'path');
  path.setAttribute('d', d);
  path.setAttribute('fill', cat >= 0 ? categoryColors[cat] : noDataColor);
  path.setAttribute('stroke', '#ffffff');
  path.setAttribute('stroke-width', '0.8');
  path.setAttribute('stroke-linejoin', 'round');
  
  
  const title = document.createElementNS(NS, 'title');
  title.textContent = name + ': ' + (cat >= 0 ? categoryLabels[cat] : 'No data');
  path.appendChild(title);
  mapG.appendChild(path);
});
</script>
</body>
</html>
